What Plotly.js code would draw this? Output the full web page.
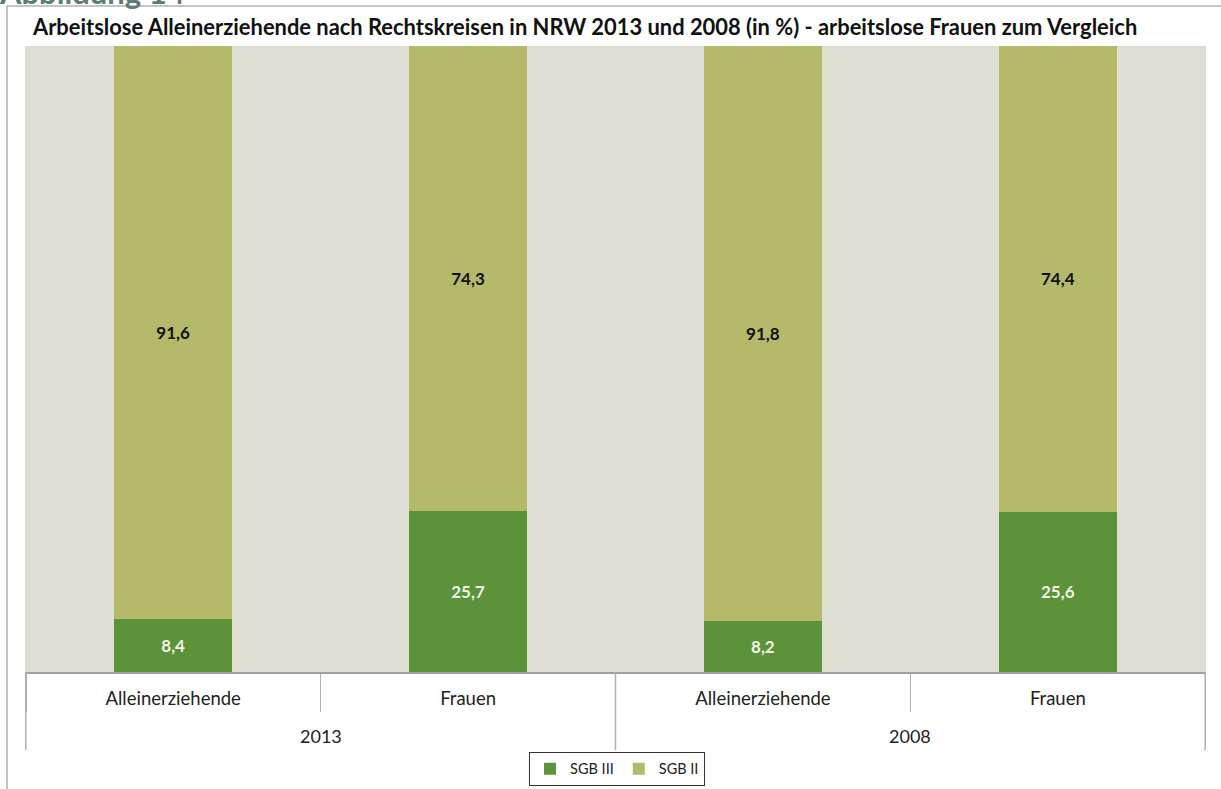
<!DOCTYPE html>
<html>
<head>
<meta charset="utf-8">
<script src="https://cdn.plot.ly/plotly-3.0.1.min.js"></script>
<style>html,body{margin:0;padding:0;background:#fff;}#chart{width:1221px;height:789px;}</style>
</head>
<body>
<div id="chart"></div>
<script>
const years = ["2013", "2013", "2008", "2008"];
const groups = ["Alleinerziehende", "Frauen", "Alleinerziehende", "Frauen"];
const sgb3 = [8.4, 25.7, 8.2, 25.6];
const sgb2 = [91.6, 74.3, 91.8, 74.4];
const seriesNames = ["SGB III", "SGB II"];
const fmt = v => v.toFixed(1).replace('.', ',');

// unique category keys (year + group), shown with the group name only
const keys = years.map((y, i) => y + ' ' + groups[i]);
const uniqYears = [...new Set(years)];
const FONT = "Lato, 'Open Sans', sans-serif";

const traces = [
  {type: 'bar', name: seriesNames[0], x: keys, y: sgb3, marker: {color: '#5b923a'},
   text: sgb3.map(fmt), textposition: 'inside', insidetextanchor: 'middle',
   textfont: {color: '#f2f2e6', size: 17, family: FONT, weight: 'bold'}, hoverinfo: 'none'},
  {type: 'bar', name: seriesNames[1], x: keys, y: sgb2, marker: {color: '#b5ba6a'},
   text: sgb2.map(fmt), textposition: 'inside', insidetextanchor: 'middle',
   textfont: {color: '#111111', size: 17, family: FONT, weight: 'bold'}, hoverinfo: 'none'}
];

// year labels centred under their groups, and group dividers
const yearAnn = uniqYears.map(yr => {
  const idx = years.map((y, i) => y === yr ? i : -1).filter(i => i >= 0);
  const mid = (idx[0] + idx[idx.length - 1]) / 2;
  return {text: yr, xref: 'x', yref: 'paper', x: mid, y: -0.1022, yanchor: 'middle',
          showarrow: false, font: {family: FONT, size: 18, color: '#222'}};
});
const dividerPos = [-0.5];
uniqYears.forEach(yr => { dividerPos.push(years.lastIndexOf(yr) + 0.5); });
const dividers = dividerPos.map(p => ({type: 'line', xref: 'x', yref: 'paper', x0: p, x1: p, y0: 0, y1: -0.1246,
  line: {color: '#b0b0b0', width: 1.5}}));

const layout = {
  width: 1221, height: 789,
  margin: {l: 25, r: 15, t: 46, b: 117, autoexpand: false},
  paper_bgcolor: '#ffffff', plot_bgcolor: '#dedfd2',
  barmode: 'stack', bargap: 0.6,
  font: {family: FONT, size: 17, color: '#222'},
  title: {text: 'Arbeitslose Alleinerziehende nach Rechtskreisen in NRW 2013 und 2008 (in %) - arbeitslose Frauen zum Vergleich',
          font: {family: FONT, size: 21.9, color: '#111', weight: 'bold'},
          x: 0.0068, xanchor: 'left', xref: 'paper', y: 0.965, yanchor: 'middle'},
  xaxis: {type: 'category', tickvals: keys, ticktext: groups,
          showline: true, linecolor: '#a0a0a0', linewidth: 1.5,
          ticks: 'outside', tickson: 'boundaries', ticklen: 38, tickcolor: '#b0b0b0', tickwidth: 1.5,
          ticklabelstandoff: 9,
          tickfont: {family: FONT, size: 18.5, color: '#222'}, fixedrange: true, automargin: false},
  yaxis: {range: [0, 100], visible: false, showgrid: false, fixedrange: true},
  showlegend: true,
  legend: {orientation: 'h', traceorder: 'normal', x: 0.5013, xanchor: 'center',
           yref: 'container', y: 0.004, yanchor: 'bottom',
           bordercolor: '#333', borderwidth: 1, font: {family: FONT, size: 14.5, color: '#222'},
           itemwidth: 30, tracegroupgap: 0},
  shapes: [
    {type: 'rect', xref: 'paper', yref: 'paper', x0: -0.01524, x1: 1.05, y0: -0.3, y1: 1.0639,
     line: {color: '#8a8a8a', width: 1}, fillcolor: 'rgba(0,0,0,0)', layer: 'below'}
  ].concat(dividers),
  annotations: [
    {text: '<b>Abbildung 14</b>', xref: 'paper', yref: 'paper', x: -0.024, xanchor: 'left',
     y: 1.0535, yanchor: 'bottom', showarrow: false, font: {family: FONT, size: 31, color: '#5c7d73'}}
  ].concat(yearAnn)
};

Plotly.newPlot('chart', traces, layout, {displayModeBar: false, staticPlot: true});
</script>
</body>
</html>
